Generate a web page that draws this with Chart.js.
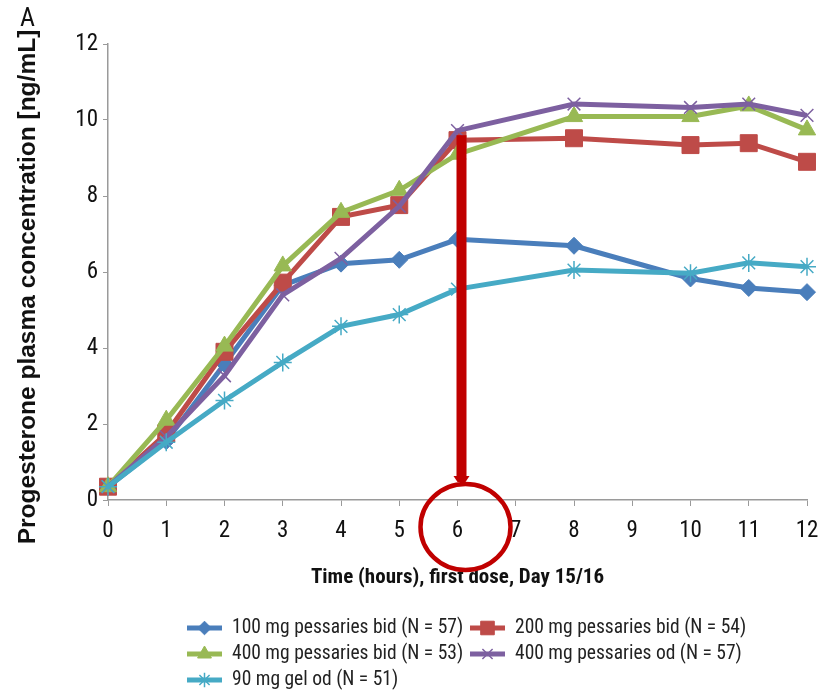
<!DOCTYPE html>
<html>
<head>
<meta charset="utf-8">
<script src="https://cdn.jsdelivr.net/npm/chart.js@4.4.1/dist/chart.umd.min.js"></script>
<style>
  html, body { margin: 0; padding: 0; background: #fff; }
  #wrap { position: relative; width: 834px; height: 695px; }
</style>
</head>
<body>
<div id="wrap"><canvas id="pk" width="834" height="695"></canvas></div>
<script>
// time points after first dose (hours); 7 and 9 have no samples
const hours = ['0', '1', '2', '3', '4', '5', '6', '7', '8', '9', '10', '11', '12'];
const yTicks = [0, 2, 4, 6, 8, 10, 12];

const pess100bid = [0.35, 1.55, 3.58, 5.65, 6.22, 6.32, 6.86, null, 6.69, null, 5.83, 5.58, 5.47];
const pess200bid = [0.35, 1.75, 3.9, 5.72, 7.45, 7.76, 9.47, null, 9.52, null, 9.34, 9.39, 8.9];
const pess400bid = [0.35, 2.1, 4.05, 6.16, 7.57, 8.15, 9.1, null, 10.09, null, 10.09, 10.37, 9.74];
const pess400od  = [0.35, 1.66, 3.27, 5.4, 6.36, 7.73, 9.72, null, 10.42, null, 10.33, 10.42, 10.12];
const gel90od    = [0.35, 1.52, 2.62, 3.62, 4.57, 4.88, 5.55, null, 6.05, null, 5.97, 6.24, 6.14];

const seriesNames = [
  '100 mg pessaries bid (N = 57)',
  '200 mg pessaries bid (N = 54)',
  '400 mg pessaries bid (N = 53)',
  '400 mg pessaries od (N = 57)',
  '90 mg gel od (N = 51)'
];
const yTitle = 'Progesterone plasma concentration [ng/mL]';

const narrow = "'Roboto Condensed', 'Liberation Sans', sans-serif";
const wide = "'Liberation Sans', Arial, sans-serif";

function series(i, data, color, style, radius, pbw) {
  return {
    label: seriesNames[i],
    data,
    borderColor: color,
    backgroundColor: color,
    borderWidth: 5,
    pointStyle: style,
    pointRadius: radius,
    pointHoverRadius: radius,
    pointBorderWidth: pbw,
    pointBackgroundColor: color,
    pointBorderColor: color,
    spanGaps: true,
    tension: 0,
    order: 5 - i
  };
}

// panel letter, y title, arrow + circle marking the 6 h sample, two-column key
const annotate = {
  id: 'annotate',
  afterDraw(chart) {
    const ctx = chart.ctx;
    const x = chart.scales.x, y = chart.scales.y;
    ctx.save();

    ctx.fillStyle = '#111';
    ctx.font = '26px ' + narrow;
    ctx.textAlign = 'left';
    ctx.textBaseline = 'middle';
    ctx.fillText('A', 20, 19);

    // y title sits a little below the plot's centre line
    ctx.save();
    ctx.translate(28, 287);
    ctx.rotate(-Math.PI / 2);
    ctx.font = 'bold 24.5px ' + wide;
    ctx.textAlign = 'center';
    ctx.fillText(yTitle, 0, 0);
    ctx.restore();

    // arrow down from the 6 h peak
    const ax = x.getPixelForValue(6) + 4;
    const top = y.getPixelForValue(9.6);
    const tip = y.getPixelForValue(0) - 18;
    ctx.fillStyle = '#C00000';
    ctx.fillRect(ax - 5, top, 10, tip - top - 4);
    ctx.beginPath();
    ctx.moveTo(ax - 8, tip - 6);
    ctx.lineTo(ax + 8, tip - 6);
    ctx.lineTo(ax + 4, tip);
    ctx.lineTo(ax - 4, tip);
    ctx.closePath();
    ctx.fill();

    // ring round the 6 h tick label
    ctx.strokeStyle = '#C00000';
    ctx.lineWidth = 4.5;
    ctx.beginPath();
    ctx.ellipse(x.getPixelForValue(6) + 8, y.bottom + 27, 45, 43, 0, 0, Math.PI * 2);
    ctx.stroke();

    // key
    const cols = [187, 470];
    const rows = [628, 654, 680];
    chart.data.datasets.forEach((ds, i) => {
      const lx = cols[i % 2], ly = rows[Math.floor(i / 2)];
      ctx.strokeStyle = ds.borderColor;
      ctx.lineWidth = 5;
      ctx.beginPath();
      ctx.moveTo(lx, ly);
      ctx.lineTo(lx + 35, ly);
      ctx.stroke();
      ctx.fillStyle = ds.borderColor;
      ctx.lineWidth = ds.pointBorderWidth;
      Chart.helpers.drawPoint(ctx, {
        pointStyle: ds.pointStyle,
        radius: ds.pointRadius * 0.8,
        borderWidth: ds.pointBorderWidth,
        rotation: 0
      }, lx + 17.5, ly);
      ctx.fillStyle = '#222';
      ctx.font = '19.5px ' + narrow;
      ctx.textAlign = 'left';
      ctx.textBaseline = 'middle';
      ctx.fillText(ds.label, lx + 45, ly);
    });
    ctx.restore();
  }
};

new Chart(document.getElementById('pk'), {
  type: 'line',
  data: {
    labels: hours,
    datasets: [
      series(0, pess100bid, '#4A7EBB', 'rectRot', 8.5, 1),
      series(1, pess200bid, '#BE4B48', 'rect', 12, 1),
      series(2, pess400bid, '#98B954', 'triangle', 10, 1),
      series(3, pess400od, '#7D60A0', 'crossRot', 9, 1.5),
      series(4, gel90od, '#46AAC5', 'star', 9, 1.5)
    ]
  },
  options: {
    responsive: false,
    animation: false,
    layout: { padding: { left: 0, top: 44, right: 27, bottom: 105 } },
    plugins: {
      legend: { display: false },
      tooltip: { enabled: false }
    },
    scales: {
      x: {
        type: 'category',
        offset: false,
        afterFit(scale) { scale.height = 90; },
        grid: {
          display: true,
          drawOnChartArea: false,
          drawTicks: true,
          tickLength: 6,
          color: '#9A9A9A'
        },
        border: { display: true, color: '#9A9A9A', width: 1.5 },
        ticks: {
          color: '#111',
          font: { family: narrow, size: 23 },
          padding: 11,
          maxRotation: 0,
          autoSkip: false
        },
        title: {
          display: true,
          text: 'Time (hours), first dose, Day 15/16',
          color: '#111',
          font: { family: narrow, size: 21, weight: 'bold' },
          padding: { top: 0, bottom: 0 }
        }
      },
      y: {
        min: 0,
        max: 12,
        afterFit(scale) { scale.width = 108; },
        afterBuildTicks(scale) { scale.ticks = yTicks.map(v => ({ value: v })); },
        grid: {
          display: true,
          drawOnChartArea: false,
          drawTicks: true,
          tickLength: 5,
          color: '#9A9A9A'
        },
        border: { display: true, color: '#9A9A9A', width: 1.5 },
        ticks: {
          color: '#111',
          font: { family: narrow, size: 23 },
          padding: 5
        }
      }
    }
  },
  plugins: [annotate]
});
</script>
</body>
</html>
